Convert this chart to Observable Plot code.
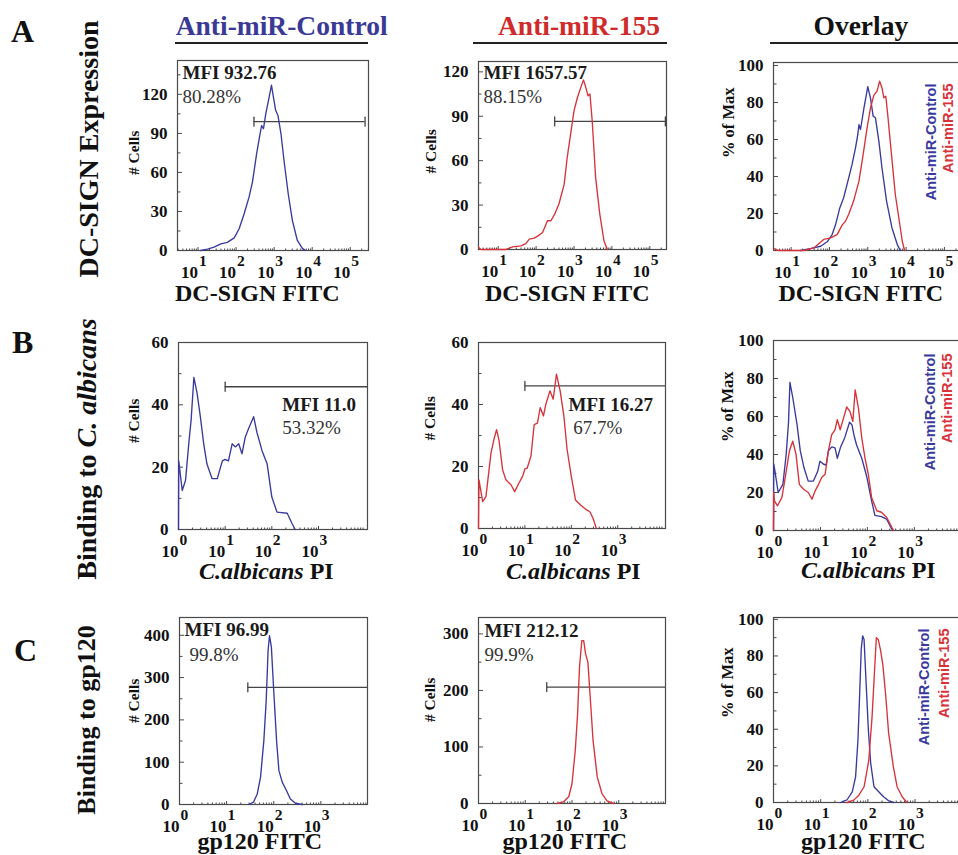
<!DOCTYPE html>
<html><head><meta charset="utf-8">
<script src="https://cdn.jsdelivr.net/npm/d3@7"></script>
<script src="https://cdn.jsdelivr.net/npm/@observablehq/plot@0.6"></script>
<style>
html,body{margin:0;padding:0;background:#fff;overflow:hidden;}
#fig{position:relative;width:958px;height:855px;overflow:hidden;font-family:'Liberation Serif','Times New Roman',serif;color:#111;}
.t{position:absolute;white-space:nowrap;line-height:1;font-weight:bold;}
.r{position:absolute;white-space:nowrap;line-height:1;font-weight:bold;transform:translate(-50%,-50%) rotate(-90deg);}
.u{position:absolute;height:2px;background:#222;}
#fig svg{position:absolute;}
</style></head><body><div id="fig"></div>
<script>
const BLUE = "#3a3a9e", RED = "#d8323a";
const TITLE_BLUE = "#3a3a95", TITLE_RED = "#cf2b2b";

// ---- column / row labels ----
const columnTitles = ["Anti-miR-Control", "Anti-miR-155", "Overlay"];
const rowLetters = ["A", "B", "C"];
const rowTitles = ["DC-SIGN Expression", "Binding to <i>C. albicans</i>", "Binding to gp120"];
const xTitles = ["DC-SIGN FITC", "<i>C.albicans</i> PI", "gp120 FITC"];
const legendLabels = ["Anti-miR-Control", "Anti-miR-155"];

// ---- Row A: DC-SIGN (x as log10 intensity) ----
const A1_logx = [1.07,1.25,1.42,1.6,1.77,1.95,2.08,2.21,2.34,2.43,2.54,2.63,2.67,2.72,2.78,2.87,2.93,2.98,3.04,3.1,3.18,3.26,3.37,3.48,3.61,3.75,3.83];
const A1_cells = [0,1,2.6,5.1,6.2,9.7,16.7,28,41,52.6,74.4,89.7,96,93.6,105,118,127,118,107.7,103.8,89.7,69,43.6,23,7.7,1.3,0];
const A2_logx = [0.48,0.52,0.56,1.2,1.38,1.6,1.73,1.82,1.95,2.05,2.17,2.3,2.39,2.49,2.6,2.74,2.82,2.91,3.0,3.09,3.18,3.25,3.31,3.37,3.42,3.48,3.57,3.68,3.79,3.88];
const A2_cells = [1.5,0.5,0,0,1.8,2.5,4,7,7.7,9.2,11.5,19.4,19.4,23.9,30.6,44,62,78,93.7,102.7,109.5,114.6,109.5,103.8,105,87,48.6,23.9,5.9,0];
const A3c_logx = [1.24,1.5,1.77,1.94,2.07,2.16,2.27,2.37,2.46,2.59,2.68,2.74,2.77,2.81,2.9,3.0,3.07,3.14,3.2,3.29,3.37,3.49,3.63,3.77,3.85];
const A3c_pct = [0,1,2.3,4.7,8.6,14,23,28.5,35.7,46.5,55.5,62.7,68,65.4,77,88.5,82.5,72.6,71.7,59,44.7,26.7,12.3,3.2,0];
const A3m_logx = [0.55,0.6,0.68,1.33,1.59,1.85,2.03,2.2,2.33,2.42,2.5,2.63,2.77,2.88,2.98,3.07,3.16,3.24,3.31,3.37,3.42,3.47,3.52,3.61,3.72,3.81,3.9,3.96];
const A3m_pct = [1.2,0.5,0,0,1.4,6,6.8,8.6,13.7,15.9,19.5,26.7,37.5,52,66,77,84,86,91.5,88,82.5,83.4,73.5,53.7,30,17.7,5,0];

// ---- Row B: C. albicans PI ----
const B1_logx = [0,0.005,0.08,0.15,0.22,0.27,0.33,0.4,0.47,0.54,0.61,0.72,0.83,0.94,1.0,1.07,1.15,1.22,1.29,1.36,1.43,1.5,1.61,1.68,1.79,1.9,2.0,2.11,2.33,2.43,2.5];
const B1_cells = [0,22,12.5,15.7,27.5,35,48.8,43.6,36,27.5,21,16.3,16.3,22,22.5,22,27.5,26.5,27.5,24.3,29.6,32.3,36.2,31.2,25.3,21,10.4,5.6,5.2,2,0];
const B2_logx = [0,0.01,0.09,0.16,0.27,0.34,0.39,0.44,0.52,0.59,0.7,0.78,0.87,0.95,1.0,1.05,1.13,1.2,1.27,1.33,1.4,1.45,1.54,1.61,1.68,1.76,1.84,1.91,2.0,2.09,2.2,2.33,2.4,2.47,2.54];
const B2_cells = [0,15.7,8.7,10.3,24.4,29.2,31.9,28.7,18.9,15.7,14.1,11.9,14.6,16.8,19.2,19.5,23.3,33.5,34,39,36.3,40,44.4,41.7,49.8,44.4,36.3,25.4,16.8,9.2,7.6,6,5.4,3.2,0];
const B3c_logx = [0,0.005,0.02,0.1,0.2,0.27,0.32,0.35,0.41,0.5,0.57,0.65,0.74,0.85,0.94,0.99,1.06,1.12,1.17,1.24,1.31,1.36,1.43,1.52,1.62,1.67,1.72,1.77,1.88,1.99,2.09,2.16,2.3,2.41,2.48,2.54];
const B3c_pct = [0,35,33,20,24.3,40,57,78,70,56,42,33,26,26,31,36.5,35,34.4,42,44,43.5,38,44,49,57,55.7,49.6,45,38,28,15.6,8,7.3,6,2.6,0];
const B3m_logx = [0,0.005,0.02,0.085,0.18,0.27,0.34,0.41,0.48,0.55,0.64,0.74,0.82,0.89,0.96,1.03,1.1,1.17,1.24,1.31,1.36,1.42,1.49,1.56,1.63,1.69,1.74,1.81,1.88,1.95,2.02,2.09,2.2,2.3,2.41,2.52,2.56];
const B3m_pct = [0,20,15.6,13,17.4,31,42,47,40,24.3,21.7,20,16.5,21,24.3,28,29.6,42,50.4,53,58.3,53,59,65,62.6,57.4,74,64.3,48.7,38,29.6,17.4,10.4,9.6,7,1.7,0];

// ---- Row C: gp120 FITC ----
const C1_logx = [1.47,1.57,1.65,1.72,1.79,1.84,1.88,1.91,1.95,2.0,2.06,2.11,2.18,2.27,2.35,2.46,2.6];
const C1_cells = [0,5.5,25,64.6,151,245,364,399,372,269,151,80,53,33,13.4,3,0];
const C2_logx = [1.68,1.82,1.93,2.0,2.07,2.12,2.16,2.21,2.25,2.29,2.34,2.39,2.45,2.54,2.64,2.75,2.89];
const C2_cells = [0,3,12,35,94,159,241,288,288,265,250,188,112,47,17.6,4.7,0];
const C3c_logx = [1.42,1.56,1.67,1.74,1.79,1.83,1.86,1.89,1.92,1.96,2.01,2.06,2.13,2.23,2.34,2.44,2.55];
const C3c_pct = [0,1.5,5.8,14,34,61.8,83.8,91,89,67,40,21.5,8.6,5.9,3,0.9,0];
const C3m_logx = [1.56,1.7,1.81,1.92,2.02,2.09,2.14,2.18,2.22,2.27,2.32,2.38,2.44,2.54,2.62,2.73,2.83];
const C3m_pct = [0,1.3,4,8.6,23,47,71,90,89,83,74.7,58,38,19.6,8.6,3,0];

// ---- annotations (gate statistics) ----
const mfiLabels = ["MFI 932.76", "MFI 1657.57", "MFI 11.0", "MFI 16.27", "MFI 96.99", "MFI 212.12"];
const pctLabels = ["80.28%", "88.15%", "53.32%", "67.7%", "99.8%", "99.9%"];
// gate: [log10 start, log10 end, y level]
const gates = [[2.47, 5.39, 99], [2.49, 5.41, 86.5], [1.0, 4.05, 45.8], [1.0, 4.03, 46], [1.45, 3.99, 277], [1.46, 4.0, 206]];

const fig = document.getElementById("fig");
function addText(html, cx, baseline, fs, opts = {}) {
  const d = document.createElement("div");
  d.className = "t";
  d.innerHTML = html;
  d.style.fontSize = fs + "px";
  d.style.top = (baseline - 0.8375 * fs) + "px";
  if (opts.color) d.style.color = opts.color;
  fig.appendChild(d);
  d.style.left = (opts.left != null ? opts.left : cx - d.offsetWidth / 2) + "px";
}
function addRot(html, cx, cy, fs) {
  const d = document.createElement("div");
  d.className = "r";
  d.innerHTML = html;
  d.style.fontSize = fs + "px";
  d.style.left = cx + "px";
  d.style.top = cy + "px";
  fig.appendChild(d);
}
function addRule(x1, x2, y) {
  const d = document.createElement("div");
  d.className = "u";
  d.style.left = x1 + "px"; d.style.width = (x2 - x1) + "px"; d.style.top = y + "px";
  fig.appendChild(d);
}

const capShape = {draw(ctx, l) { ctx.moveTo(0, 0); ctx.lineTo(0, -l); }};
const AX = "#4a4a4a";

function series(lx, v, color) {
  return Plot.line(lx.map((x, i) => ({x: 10 ** x, y: v[i]})), {x: "x", y: "y", stroke: color, strokeWidth: 1.35});
}

function panel(cfg) {
  const ml = 62, mr = 8, mt = 12, mb = 34;
  const W = cfg.R - cfg.L + ml + mr, H = cfg.B - cfg.T + mt + mb;
  const x0 = 10 ** cfg.xdom[0], x1 = 10 ** cfg.xdom[1];
  const majors = cfg.decades.map(e => 10 ** e);
  const minors = [];
  for (let e = 0; e <= cfg.decades[cfg.decades.length - 1]; e++)
    for (const m of [2, 3, 4, 5, 6, 7, 8, 9]) { const v = m * 10 ** e; if (v > x0 && v < x1) minors.push(v); }
  const marks = [
    Plot.axisY({ticks: cfg.yticks, tickSize: 0, tickPadding: 10, tickFormat: d => String(d), fontSize: 17, fontWeight: "bold", label: null}),
    Plot.axisY({ticks: cfg.yticks, anchor: "right", frameAnchor: "left", tickSize: 4, fill: "none", stroke: AX, label: null}),
    Plot.axisY({ticks: cfg.yminor, anchor: "right", frameAnchor: "left", tickSize: 2.5, fill: "none", stroke: AX, label: null}),
    Plot.axisX({ticks: majors, anchor: "top", frameAnchor: "bottom", tickSize: 4, fill: "none", stroke: AX, label: null}),
    Plot.axisX({ticks: minors, anchor: "top", frameAnchor: "bottom", tickSize: 2.5, fill: "none", stroke: AX, label: null}),
    Plot.text(majors, {x: d => d, frameAnchor: "bottom", text: () => "10", textAnchor: "end", lineAnchor: "bottom", dy: 27, fontSize: 17, fontWeight: "bold", fill: "#111"}),
    Plot.text(majors, {x: d => d, frameAnchor: "bottom", text: d => String(Math.round(Math.log10(d))), textAnchor: "start", lineAnchor: "bottom", dx: 1, dy: 15, fontSize: 15.5, fontWeight: "bold", fill: "#111"}),
    Plot.text([cfg.ylabel], {text: d => d, frameAnchor: "left", rotate: -90, dx: cfg.ylDx, dy: cfg.ylDy, fontSize: cfg.ylSize, fontWeight: "bold", fill: "#111"}),
    Plot.frame({stroke: AX, strokeWidth: 1.2})
  ];
  if (cfg.gate) {
    const [g1, g2, gy] = cfg.gate;
    marks.push(Plot.ruleY([gy], {x1: 10 ** g1, x2: 10 ** g2, stroke: "#444", strokeWidth: 1.3}));
    const caps = cfg.capBoth ? [g1, g2] : [g1];
    marks.push(Plot.vector(caps, {x: d => 10 ** d, y: gy, length: 9, anchor: "middle", shape: capShape, stroke: "#444", strokeWidth: 1.3}));
  }
  for (const s of cfg.series) marks.push(series(s[0], s[1], s[2]));
  for (const n of (cfg.notes || []))
    marks.push(Plot.text([n.text], {text: d => d, frameAnchor: "top-left", textAnchor: "start", lineAnchor: "bottom", dx: n.dx, dy: n.dy, fontSize: 19, fontWeight: n.bold ? "bold" : "normal", fill: n.bold ? "#1a1a1a" : "#333"}));
  for (const g of (cfg.legend || []))
    marks.push(Plot.text([g.text], {text: d => d, frameAnchor: "top-left", rotate: -90, textAnchor: "end", lineAnchor: "middle", dx: g.dx, dy: g.dy, fontSize: 14.5, fontWeight: "bold", fontFamily: "'Liberation Sans', Arial, sans-serif", fill: g.color}));
  const svg = Plot.plot({
    width: W, height: H, marginLeft: ml, marginRight: mr, marginTop: mt, marginBottom: mb,
    x: {type: "log", domain: [x0, x1], label: null},
    y: {domain: cfg.ydom, label: null},
    style: {fontFamily: "'Liberation Serif','Times New Roman',serif", fontSize: "16px", color: "#111", background: "transparent", overflow: "visible"},
    marks
  });
  svg.style.left = (cfg.L - ml) + "px";
  svg.style.top = (cfg.T - mt) + "px";
  fig.appendChild(svg);
}

const DC = [1, 2, 3, 4, 5], LOW = [0, 1, 2, 3];
const pct = [0, 20, 40, 60, 80, 100], pctMinor = [10, 30, 50, 70, 90];

// Row A
panel({L: 177, T: 60, R: 368, B: 250, xdom: [0.46, 5.48], decades: DC, ydom: [0, 146], yticks: [0, 30, 60, 90, 120], yminor: [15, 45, 75, 105, 135],
  ylabel: "# Cells", ylDx: -43, ylDy: 19.5, ylSize: 15.5, gate: gates[0], capBoth: true,
  series: [[A1_logx, A1_cells, BLUE]],
  notes: [{text: mfiLabels[0], dx: 5, dy: 18, bold: true}, {text: pctLabels[0], dx: 5, dy: 42.5}]});
panel({L: 478, T: 61, R: 666, B: 249, xdom: [0.48, 5.44], decades: DC, ydom: [0, 127], yticks: [0, 30, 60, 90, 120], yminor: [15, 45, 75, 105],
  ylabel: "# Cells", ylDx: -47, ylDy: 18, ylSize: 15.5, gate: gates[1], capBoth: true,
  series: [[A2_logx, A2_cells, RED]],
  notes: [{text: mfiLabels[1], dx: 5, dy: 17.3, bold: true}, {text: pctLabels[1], dx: 5, dy: 41}]});
panel({L: 773, T: 62, R: 965, B: 250, xdom: [0.54, 5.55], decades: DC, ydom: [0, 101.6], yticks: pct, yminor: pctMinor,
  ylabel: "% of Max", ylDx: -45, ylDy: 1.5, ylSize: 16.5,
  series: [[A3c_logx, A3c_pct, BLUE], [A3m_logx, A3m_pct, RED]],
  legend: [{text: legendLabels[0], color: BLUE, dx: 158, dy: 21}, {text: legendLabels[1], color: RED, dx: 175, dy: 21}]});

// Row B
panel({L: 178, T: 342, R: 367, B: 529, xdom: [0, 4.05], decades: LOW, ydom: [0, 60], yticks: [0, 20, 40, 60], yminor: [10, 30, 50],
  ylabel: "# Cells", ylDx: -44.5, ylDy: 7, ylSize: 15.5, gate: gates[2],
  series: [[B1_logx, B1_cells, BLUE]],
  notes: [{text: mfiLabels[2], dx: 103.7, dy: 68, bold: true}, {text: pctLabels[2], dx: 103.7, dy: 91}]});
panel({L: 478, T: 342, R: 665, B: 528, xdom: [0, 4.03], decades: LOW, ydom: [0, 60], yticks: [0, 20, 40, 60], yminor: [10, 30, 50],
  ylabel: "# Cells", ylDx: -48, ylDy: 5, ylSize: 15.5, gate: gates[3],
  series: [[B2_logx, B2_cells, RED]],
  notes: [{text: mfiLabels[3], dx: 90, dy: 68, bold: true}, {text: pctLabels[3], dx: 94.7, dy: 91}]});
panel({L: 773, T: 340, R: 965, B: 530, xdom: [0, 4.09], decades: LOW, ydom: [0, 100], yticks: pct, yminor: pctMinor,
  ylabel: "% of Max", ylDx: -46, ylDy: 6.5, ylSize: 16.5,
  series: [[B3c_logx, B3c_pct, BLUE], [B3m_logx, B3m_pct, RED]],
  legend: [{text: legendLabels[0], color: BLUE, dx: 157, dy: 13}, {text: legendLabels[1], color: RED, dx: 174, dy: 13}]});

// Row C
panel({L: 179, T: 617, R: 367, B: 804, xdom: [0, 3.99], decades: LOW, ydom: [0, 442], yticks: [0, 100, 200, 300, 400], yminor: [50, 150, 250, 350],
  ylabel: "# Cells", ylDx: -45, ylDy: 12, ylSize: 15.5, gate: gates[4],
  series: [[C1_logx, C1_cells, BLUE]],
  notes: [{text: mfiLabels[4], dx: 5, dy: 18, bold: true}, {text: pctLabels[4], dx: 10, dy: 43}]});
panel({L: 478, T: 617, R: 665, B: 803, xdom: [0, 4.0], decades: LOW, ydom: [0, 329], yticks: [0, 100, 200, 300], yminor: [50, 150, 250],
  ylabel: "# Cells", ylDx: -48, ylDy: 11.5, ylSize: 15.5, gate: gates[5],
  series: [[C2_logx, C2_cells, RED]],
  notes: [{text: mfiLabels[5], dx: 6, dy: 19.7, bold: true}, {text: pctLabels[5], dx: 6, dy: 43}]});
panel({L: 773, T: 617, R: 965, B: 802, xdom: [0, 4.07], decades: LOW, ydom: [0, 101], yticks: pct, yminor: pctMinor,
  ylabel: "% of Max", ylDx: -46, ylDy: 8, ylSize: 16.5,
  series: [[C3c_logx, C3c_pct, BLUE], [C3m_logx, C3m_pct, RED]],
  legend: [{text: legendLabels[0], color: BLUE, dx: 151, dy: 11}, {text: legendLabels[1], color: RED, dx: 171, dy: 11}]});

// ---- HTML labels ----
addText(columnTitles[0], 281.7, 35, 27.5, {color: TITLE_BLUE});
addText(columnTitles[1], 579, 35, 27.5, {color: TITLE_RED});
addText(columnTitles[2], 861, 35, 27.5, {color: "#111"});
addRule(175, 368, 42); addRule(473, 667, 42); addRule(770, 960, 42);
addText(rowLetters[0], 0, 42, 32, {left: 11});
addText(rowLetters[1], 0, 353, 32, {left: 12});
addText(rowLetters[2], 0, 661, 32, {left: 14});
addRot(rowTitles[0], 88.5, 149, 28);
addRot(rowTitles[1], 87, 449, 28);
addRot(rowTitles[2], 87, 720, 26);
addText(xTitles[0], 257.5, 301, 24); addText(xTitles[0], 567.5, 301, 24); addText(xTitles[0], 861, 301, 24);
addText(xTitles[1], 266.5, 579, 24); addText(xTitles[1], 573.5, 579, 24); addText(xTitles[1], 868.5, 578, 24);
addText(xTitles[2], 260, 849, 24); addText(xTitles[2], 565, 849, 24); addText(xTitles[2], 863.5, 849, 24);
</script></body></html>
